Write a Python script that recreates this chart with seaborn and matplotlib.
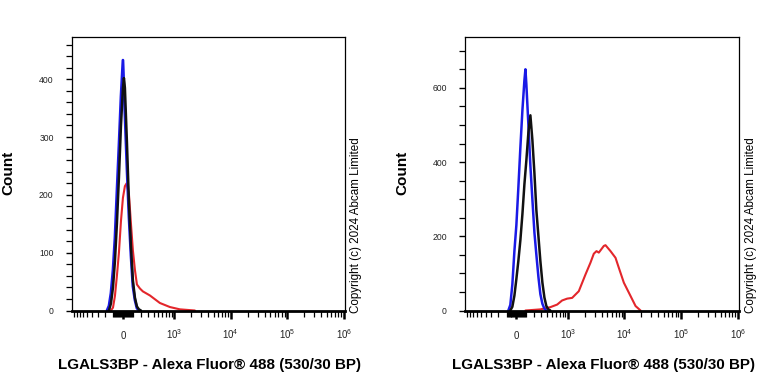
import numpy as np
import pandas as pd
import seaborn as sns
import matplotlib
matplotlib.use('Agg')
import matplotlib.pyplot as plt

# ---------------- data (fluorescence value, count) ----------------
# Left panel
l_blue_x = [-174, -150, -127, -104, -83, -62, -41, -20, 0, 20, 41, 62, 83, 104, 127, 150, 174]
l_blue_y = [0, 8, 30, 70, 125, 205, 285, 370, 433, 340, 245, 161, 95, 42, 18, 4, 0]

l_black_x = [-150, -127, -104, -83, -62, -41, -20, 0, 10, 20, 41, 62, 83, 104, 127, 150, 174, 200]
l_black_y = [0, 12, 40, 85, 150, 230, 320, 385, 402, 385, 290, 185, 110, 52, 22, 7, 2, 0]

l_red_x = [-127, -104, -83, -62, -41, -20, 0, 20, 38, 62, 83, 104, 127, 150, 187, 226, 333, 534, 826, 1255, 2328]
l_red_y = [0, 5, 25, 60, 100, 155, 195, 215, 220, 200, 150, 104, 70, 45, 38, 33, 26, 13, 6, 2, 0]

# Right panel
r_blue_x = [-83, -62, -41, -20, 0, 20, 41, 62, 83, 94, 104, 127, 150, 174, 200, 226, 255, 284, 316, 350, 385]
r_blue_y = [0, 15, 70, 160, 230, 330, 440, 540, 620, 650, 610, 500, 390, 300, 210, 150, 90, 44, 18, 5, 0]

r_black_x = [-62, -41, -20, 0, 20, 41, 62, 83, 104, 127, 150, 174, 200, 226, 255, 284, 316, 350, 385, 424, 465]
r_black_y = [0, 10, 40, 85, 133, 190, 260, 340, 404, 480, 526, 460, 370, 270, 200, 133, 75, 35, 12, 3, 0]

r_red_x = [94, 284, 465, 631, 780, 966, 1189, 1565, 2058, 2525, 2890, 3225, 3545, 4345, 4655,
           5703, 6990, 7998, 9800, 12870, 15775, 19330]
r_red_y = [0, 3, 9, 16, 27, 32, 34, 52, 97, 129, 153, 160, 156, 174, 176,
           160, 142, 115, 75, 39, 12, 0]

x_tick_values = [0, 1e3, 1e4, 1e5, 1e6]
x_tick_labels = ['0', '$10^{3}$', '$10^{4}$', '$10^{5}$', '$10^{6}$']
x_label = 'LGALS3BP - Alexa Fluor® 488 (530/30 BP)'
y_label = 'Count'
copyright_text = 'Copyright (c) 2024 Abcam Limited'

left_ymax, left_major, left_minor = 473, 100, 20
right_ymax, right_major, right_minor = 737, 200, 50

# ---------------- style ----------------
sns.set_style('ticks')
plt.rcParams['font.family'] = ['Liberation Sans', 'DejaVu Sans']
plt.rcParams['mathtext.fontset'] = 'custom'
plt.rcParams['mathtext.rm'] = 'Liberation Sans'
plt.rcParams['mathtext.it'] = 'Liberation Sans'
plt.rcParams['mathtext.default'] = 'regular'

BLUE = '#1a1ae6'
BLACK = '#111111'
RED = '#e3262b'

W, H = 768, 384
fig = plt.figure(figsize=(W / 100, H / 100), dpi=100)
axL = fig.add_axes([71.7 / W, (H - 310.5) / H, 273.3 / W, 273.5 / H])
axR = fig.add_axes([465 / W, (H - 310.5) / H, 274 / W, 273.5 / H])

minor_x = ([-v for v in range(100, 1000, 100)] + [-v for v in range(10, 100, 10)] +
           list(range(10, 100, 10)) + list(range(100, 1000, 100)) +
           [m * 10 ** e for e in (3, 4, 5) for m in range(2, 10)])


def draw(ax, series, ymax, ymajor, yminor):
    for xs, ys, color, lw in series:
        df = pd.DataFrame({'x': xs, 'y': ys})
        sns.lineplot(data=df, x='x', y='y', ax=ax, color=color, linewidth=lw,
                     estimator=None, sort=False)
    ax.set_xscale('asinh', linear_width=250)
    ax.set_xlim(-990, 1.05e6)
    ax.set_ylim(0, ymax)
    ax.set_xticks(x_tick_values)
    ax.set_xticklabels(x_tick_labels)
    ax.set_xticks([v for v in minor_x], minor=True)
    ax.set_yticks(np.arange(0, ymax, ymajor))
    ax.set_yticks(np.arange(0, ymax, yminor), minor=True)
    ax.set_xlabel('')
    ax.set_ylabel('')
    for s in ax.spines.values():
        s.set_color('black')
        s.set_linewidth(0.9)
    ax.spines['bottom'].set_linewidth(2.0)
    ax.tick_params(axis='x', which='major', length=6, width=1.8, color='black',
                   labelsize=7, labelcolor='#222222', pad=14.5)
    ax.tick_params(axis='x', which='minor', length=4, width=0.9, color='black')
    ax.tick_params(axis='y', which='major', length=4, width=1.0, color='black',
                   labelsize=6.2, labelcolor='#222222', pad=9)
    ax.tick_params(axis='y', which='minor', length=4, width=0.9, color='black')
    for t in ax.get_xticklabels():
        t.set_verticalalignment('baseline')


draw(axL, [(l_red_x, l_red_y, RED, 1.5),
           (l_blue_x, l_blue_y, BLUE, 2.0),
           (l_black_x, l_black_y, BLACK, 1.8)],
     left_ymax, left_major, left_minor)
draw(axR, [(r_red_x, r_red_y, RED, 1.5),
           (r_blue_x, r_blue_y, BLUE, 1.8),
           (r_black_x, r_black_y, BLACK, 1.8)],
     right_ymax, right_major, right_minor)

# axis titles and copyright notes
for cx_label, cx_count, cx_copy in ((209 / W, 8.5 / W, 356 / W), (603 / W, 402 / W, 751 / W)):
    fig.text(cx_label, (H - 365) / H, x_label, ha='center', va='center',
             fontsize=10.9, fontweight='bold', color='black')
    fig.text(cx_count, (H - 173) / H, y_label, ha='center', va='center',
             rotation=90, fontsize=11, fontweight='bold', color='black')
    fig.text(cx_copy, (H - 313) / H, copyright_text, ha='center', va='bottom',
             rotation=90, fontsize=8.4, color='black')

fig.savefig('out.png', dpi=100)
